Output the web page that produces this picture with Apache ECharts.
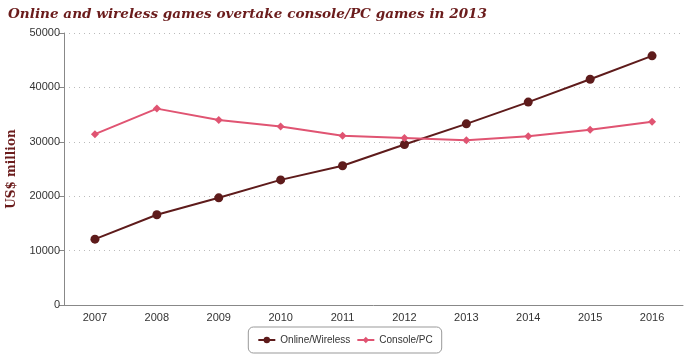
<!DOCTYPE html>
<html><head><meta charset="utf-8">
<script src="https://cdn.jsdelivr.net/npm/echarts@6/dist/echarts.min.js"></script>
<style>html,body{margin:0;padding:0;background:#fff}#c{width:690px;height:360px}</style>
</head><body><div id="c"></div>
<script>
const years = ['2007','2008','2009','2010','2011','2012','2013','2014','2015','2016'];
const onlineWireless = [12100, 16600, 19700, 23000, 25600, 29500, 33300, 37300, 41500, 45800];
const consolePC = [31400, 36100, 34000, 32800, 31100, 30700, 30300, 31000, 32200, 33700];
const yTicks = [0, 10000, 20000, 30000, 40000, 50000];

const chart = echarts.init(document.getElementById('c'));
chart.setOption({
  animation: false,
  title: {
    text: 'Online and wireless games overtake console/PC games in 2013',
    left: 3, top: 2,
    textStyle: { fontFamily: 'DejaVu Serif', fontStyle: 'italic', fontWeight: 'bold', fontSize: 13.6, color: '#6b1c1c' }
  },
  legend: {
    bottom: 7, left: 'center',
    itemGap: 6,
    itemWidth: 17, itemHeight: 8,
    padding: [8, 9],
    borderColor: '#999', borderWidth: 1, borderRadius: 5,
    textStyle: { fontFamily: 'Liberation Sans', fontSize: 10, color: '#333' },
    data: ['Online/Wireless', 'Console/PC']
  },
  grid: { left: 64, right: 7, top: 33, bottom: 55, containLabel: false, outerBoundsMode: 'none' },
  xAxis: {
    type: 'category', data: years, boundaryGap: true,
    axisLine: { lineStyle: { color: '#888' } },
    axisTick: { inside: true, length: 5, lineStyle: { color: '#888' } },
    axisLabel: { color: '#333', fontFamily: 'Liberation Sans', fontSize: 11, margin: 7 }
  },
  yAxis: {
    type: 'value', min: yTicks[0], max: yTicks[yTicks.length - 1], interval: 10000,
    name: 'US$ million', nameLocation: 'middle', nameGap: 46,
    nameTextStyle: { fontFamily: 'DejaVu Serif', fontWeight: 'bold', fontSize: 12, color: '#6b1c1c' },
    axisLine: { show: true, lineStyle: { color: '#888' } },
    axisTick: { show: true, length: 5, lineStyle: { color: '#888' } },
    axisLabel: { color: '#333', fontFamily: 'Liberation Sans', fontSize: 11, margin: 4, formatter: v => String(v) },
    splitLine: { lineStyle: { color: '#bbb', type: [1, 4], width: 1 } }
  },
  series: [
    {
      name: 'Online/Wireless', type: 'line', data: onlineWireless,
      symbol: 'circle', symbolSize: 9,
      lineStyle: { color: '#5e1b1b', width: 2 },
      itemStyle: { color: '#5e1b1b' }
    },
    {
      name: 'Console/PC', type: 'line', data: consolePC,
      symbol: 'diamond', symbolSize: 8,
      lineStyle: { color: '#e05472', width: 2 },
      itemStyle: { color: '#e05472' }
    }
  ]
});
</script></body></html>
